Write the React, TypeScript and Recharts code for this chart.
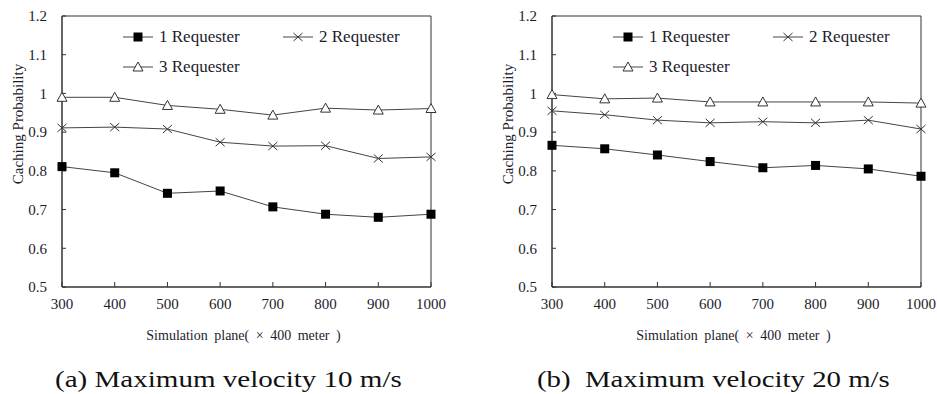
import React from "react";
import {
  LineChart,
  Line,
  XAxis,
  YAxis,
  Legend,
  ReferenceArea,
  Label,
} from "recharts";

const planes = [300, 400, 500, 600, 700, 800, 900, 1000];
const yTicks = [0.5, 0.6, 0.7, 0.8, 0.9, 1, 1.1, 1.2];

// (a) max velocity 10 m/s
const oneReqA = [0.811, 0.795, 0.742, 0.748, 0.707, 0.688, 0.68, 0.688];
const twoReqA = [0.911, 0.913, 0.908, 0.874, 0.864, 0.865, 0.832, 0.836];
const threeReqA = [0.99, 0.99, 0.969, 0.959, 0.944, 0.962, 0.957, 0.961];

// (b) max velocity 20 m/s
const oneReqB = [0.866, 0.857, 0.841, 0.824, 0.808, 0.814, 0.805, 0.786];
const twoReqB = [0.955, 0.945, 0.931, 0.924, 0.927, 0.924, 0.931, 0.908];
const threeReqB = [0.997, 0.986, 0.988, 0.978, 0.978, 0.978, 0.978, 0.975];

const seriesNames = ["1 Requester", "2 Requester", "3 Requester"];
const captions = ["(a) Maximum velocity 10 m/s", "(b)\u00a0 Maximum velocity 20 m/s"];

const FONT = "Liberation Serif";
const LINE = "#444";
const AXIS = "#333";
const TEXT = "#1c1c2c";

const buildData = (a: number[], b: number[], c: number[]) =>
  planes.map((p, i) => ({ plane: p, r1: a[i], r2: b[i], r3: c[i] }));

const Square = (props: any) => {
  const { cx, cy, index } = props;
  if (cx == null || cy == null) return <g key={"s" + index} />;
  return <rect key={"s" + index} x={cx - 4.5} y={cy - 4.5} width={9} height={9} fill="#000" />;
};

const Cross = (props: any) => {
  const { cx, cy, index } = props;
  if (cx == null || cy == null) return <g key={"c" + index} />;
  return (
    <g key={"c" + index} stroke="#333" strokeWidth={1}>
      <line x1={cx - 4.5} y1={cy - 4} x2={cx + 4.5} y2={cy + 4} />
      <line x1={cx - 4.5} y1={cy + 4} x2={cx + 4.5} y2={cy - 4} />
    </g>
  );
};

const Triangle = (props: any) => {
  const { cx, cy, index } = props;
  if (cx == null || cy == null) return <g key={"t" + index} />;
  return (
    <polygon
      key={"t" + index}
      points={`${cx},${cy - 5} ${cx - 5},${cy + 4} ${cx + 5},${cy + 4}`}
      fill="#fff"
      stroke="#333"
      strokeWidth={1}
    />
  );
};

const markers = [Square, Cross, Triangle];

const LegendItem = ({ idx }: { idx: number }) => {
  const M = markers[idx];
  return (
    <div style={{ display: "flex", alignItems: "center", width: 160, height: 30 }}>
      <svg width={32} height={16} style={{ overflow: "visible" }}>
        <line x1={0} y1={8} x2={30} y2={8} stroke={LINE} strokeWidth={1} />
        <M cx={15} cy={8} index={0} />
      </svg>
      <span style={{ marginLeft: 4, fontFamily: FONT, fontSize: 17, color: TEXT }}>
        {seriesNames[idx]}
      </span>
    </div>
  );
};

const renderLegend = () => (
  <div style={{ display: "flex", flexWrap: "wrap", width: 320 }}>
    <LegendItem idx={0} />
    <LegendItem idx={1} />
    <LegendItem idx={2} />
  </div>
);

const YTitle = (props: any) => {
  const vb = props.viewBox || {};
  const x = (vb.x ?? 12) + 6;
  const y = 124;
  return (
    <text
      x={x}
      y={y}
      transform={`rotate(-90 ${x} ${y})`}
      textAnchor="middle"
      dominantBaseline="central"
      fontSize={15}
      fontFamily={FONT}
      fill={TEXT}
    >
      Caching Probability
    </text>
  );
};

const XTitle = (props: any) => {
  const vb = props.viewBox || {};
  const x = (vb.x ?? 0) + (vb.width ?? 0) / 2 - 3;
  const y = (vb.y ?? 0) + 48;
  return (
    <text
      x={x}
      y={y}
      textAnchor="middle"
      dominantBaseline="central"
      fontSize={14}
      fontFamily={FONT}
      fill={TEXT}
      style={{ wordSpacing: 3 }}
    >
      Simulation plane( × 400 meter )
    </text>
  );
};

const Panel = ({ data }: { data: any[] }) => (
  <LineChart
    width={460}
    height={345}
    data={data}
    margin={{ top: 16, right: 29, bottom: 8, left: 12 }}
    style={{ fontFamily: FONT }}
  >
    <XAxis
      dataKey="plane"
      type="number"
      domain={[300, 1000]}
      ticks={planes}
      height={50}
      tickSize={-5}
      tickMargin={16}
      stroke={AXIS}
      tick={{ fontSize: 15, fontFamily: FONT, fill: TEXT }}
      tickLine={{ stroke: AXIS }}
    >
      <Label content={<XTitle />} />
    </XAxis>
    <YAxis
      type="number"
      domain={[0.5, 1.2]}
      ticks={yTicks}
      width={50}
      tickSize={-4}
      tickMargin={19}
      stroke={AXIS}
      tickFormatter={(v: number) => String(v)}
      tick={{ fontSize: 15, fontFamily: FONT, fill: TEXT }}
      tickLine={{ stroke: AXIS }}
    >
      <Label content={<YTitle />} />
    </YAxis>
    <ReferenceArea x1={300} x2={1000} y1={0.5} y2={1.2} fill="none" stroke={AXIS} strokeWidth={1} />
    <Line dataKey="r1" stroke={LINE} strokeWidth={1} dot={Square} isAnimationActive={false} />
    <Line dataKey="r2" stroke={LINE} strokeWidth={1} dot={Cross} isAnimationActive={false} />
    <Line dataKey="r3" stroke={LINE} strokeWidth={1} dot={Triangle} isAnimationActive={false} />
    <Legend
      layout="horizontal"
      verticalAlign="middle"
      align="center"
      content={renderLegend}
      wrapperStyle={{ top: 22, left: 123, width: 320 }}
    />
  </LineChart>
);

const App = () => {
  const dataA = buildData(oneReqA, twoReqA, threeReqA);
  const dataB = buildData(oneReqB, twoReqB, threeReqB);
  return (
    <div
      style={{
        position: "absolute",
        left: 0,
        top: 0,
        width: 937,
        height: 394,
        background: "#fff",
        overflow: "hidden",
        fontFamily: FONT,
      }}
    >
      <div style={{ position: "absolute", left: 0, top: 0 }}>
        <Panel data={dataA} />
      </div>
      <div style={{ position: "absolute", left: 490, top: 0 }}>
        <Panel data={dataB} />
      </div>
      {/* captions */}
      <div
        style={{
          position: "absolute",
          left: 55,
          top: 364,
          fontFamily: FONT,
          fontSize: 24,
          lineHeight: "30px",
          whiteSpace: "nowrap",
          transform: "scaleX(1.21)",
          transformOrigin: "left center",
          color: "#111",
        }}
      >
        {captions[0]}
      </div>
      <div
        style={{
          position: "absolute",
          left: 537,
          top: 364,
          fontFamily: FONT,
          fontSize: 24,
          lineHeight: "30px",
          whiteSpace: "nowrap",
          transform: "scaleX(1.2)",
          transformOrigin: "left center",
          color: "#111",
        }}
      >
        {captions[1]}
      </div>
    </div>
  );
};

export default App;
